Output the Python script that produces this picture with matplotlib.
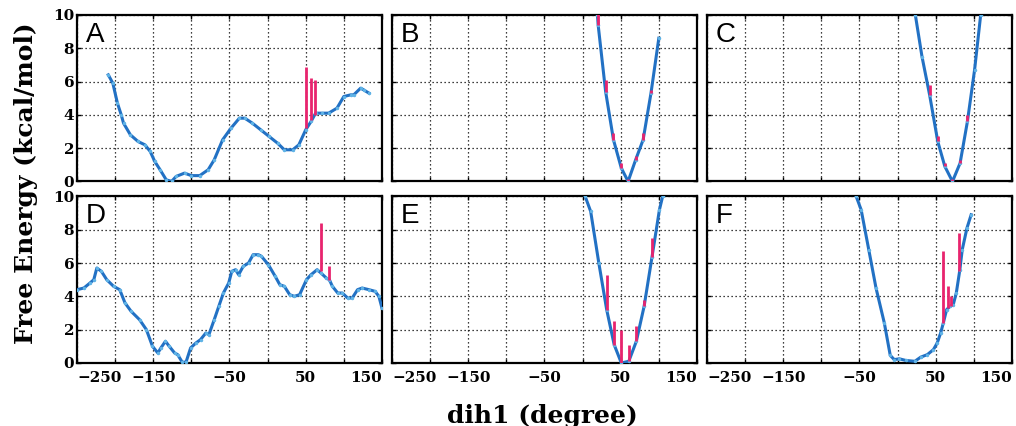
import numpy as np
import matplotlib
matplotlib.use("Agg")
import matplotlib.pyplot as plt
from matplotlib.ticker import FixedLocator, FixedFormatter

# Couleurs
BLEU = "#2271c4"
BLEU_PT = "#5fb3e6"
ROSE = "#e8246e"

# Axes
X_TICKS = [-250, -200, -150, -100, -50, 0, 50, 100, 150]
X_LABELS = ["\u2212250", "", "\u2212150", "", "\u221250", "", "50", "", "150"]
Y_TICKS = [0, 2, 4, 6, 8, 10]
PANELS = ["A", "B", "C", "D", "E", "F"]

# Panneau A
A_x = [-209, -203, -197, -192, -189, -180, -170, -161, -154, -148, -141, -133, -126, -120, -109, -100,
       -89, -78, -70, -59, -48, -37, -30, -20, -9, 2, 13, 22, 33, 41, 50, 57, 63, 72, 80, 91, 100,
       109, 113, 122, 126, 133]
A_y = [6.4, 5.9, 4.7, 4.0, 3.5, 2.8, 2.4, 2.2, 1.8, 1.2, 0.7, 0.1, 0.0, 0.3, 0.5, 0.35,
       0.35, 0.7, 1.3, 2.5, 3.2, 3.8, 3.8, 3.5, 3.1, 2.7, 2.3, 1.9, 1.9, 2.2, 3.1, 3.6, 4.1, 4.1,
       4.1, 4.4, 5.1, 5.2, 5.2, 5.6, 5.5, 5.3]
A_err_x = [51, 57, 62]
A_err_lo = [3.2, 3.7, 4.0]
A_err_hi = [6.9, 6.2, 6.1]

# Panneau B
B_x = [19.5, 20.4, 30.2, 40.5, 50.8, 59.7, 69.6, 79.4, 89.7, 100]
B_y = [10.0, 9.4, 5.4, 2.5, 0.8, 0.0, 1.3, 2.5, 5.3, 8.6]
B_err_x = [20.4, 30.2, 40.5, 50.8, 59.7, 69.6, 79.4, 89.7]
B_err_lo = [9.4, 5.4, 2.5, 0.8, 0.0, 1.3, 2.5, 5.3]
B_err_hi = [10.3, 6.1, 2.9, 1.1, 0.15, 1.5, 2.9, 5.5]

# Panneau C
C_x = [23.3, 32, 42, 52.7, 62, 72, 82, 91.6, 101, 109]
C_y = [10.0, 7.5, 5.2, 2.4, 0.9, 0.0, 1.1, 3.6, 6.7, 10.0]
C_err_x = [42, 52.7, 62, 72, 82, 91.6]
C_err_lo = [5.2, 2.4, 0.9, 0.0, 1.1, 3.6]
C_err_hi = [5.8, 2.7, 1.1, 0.15, 1.3, 4.0]

# Panneau D
D_x = [-250, -241, -233, -228, -224, -218, -211, -202, -194, -187, -179, -168, -159, -151, -144,
       -140, -134, -129, -122, -118, -112, -107, -101, -94, -88, -81, -77, -70, -64, -58, -51,
       -47, -42, -38, -32, -25, -19, -12, -8, 1, 10, 16, 22, 29, 35, 42, 51, 57, 65, 70, 77, 81,
       85, 92, 98, 105, 111, 118, 124, 133, 141, 146, 150]
D_y = [4.4, 4.5, 4.8, 5.0, 5.7, 5.5, 5.0, 4.6, 4.4, 3.6, 3.1, 2.6, 2.0, 1.0, 0.6,
       0.9, 1.3, 1.0, 0.6, 0.5, 0.05, 0.05, 0.9, 1.2, 1.4, 1.8, 1.7, 2.6, 3.4, 4.2, 4.8,
       5.5, 5.6, 5.3, 5.8, 6.0, 6.5, 6.5, 6.4, 5.9, 5.2, 4.7, 4.6, 4.1, 4.0, 4.1, 5.0, 5.3, 5.6,
       5.4, 5.1, 5.0, 4.6, 4.2, 4.2, 3.9, 3.9, 4.4, 4.5, 4.4, 4.3, 4.0, 3.3]
D_err_x = [70, 81]
D_err_lo = [5.5, 5.0]
D_err_hi = [8.4, 5.8]

# Panneau E
E_x = [3.4, 10.6, 21.3, 31.6, 41.4, 50.8, 60.6, 70.5, 80.7, 91, 100.8, 105]
E_y = [10.0, 9.1, 6.0, 3.2, 1.1, 0.0, 0.1, 1.3, 3.4, 6.35, 9.2, 10.0]
E_err_x = [31.6, 41.4, 50.8, 60.6, 70.5, 80.7, 91]
E_err_lo = [3.2, 1.1, 0.0, 0.1, 1.3, 3.4, 6.35]
E_err_hi = [5.3, 2.5, 2.0, 1.1, 2.2, 3.8, 7.5]

# Panneau F
F_x = [-54.3, -47.8, -37.8, -28.3, -17.4, -9.6, -4.3, 2.2, 10.9, 22.6, 30.4, 39, 47, 52, 56.5,
       60, 64.3, 68.7, 73, 77, 81.7, 84.8, 91, 96.5]
F_y = [10.0, 9.2, 6.8, 4.5, 2.4, 0.45, 0.2, 0.25, 0.15, 0.1, 0.35, 0.5, 0.8, 1.2, 1.8,
       2.4, 3.2, 3.4, 3.5, 4.2, 5.6, 6.8, 8.1, 8.9]
F_err_x = [60, 66, 69.6, 80.4]
F_err_lo = [2.4, 3.3, 3.4, 5.5]
F_err_hi = [6.7, 4.6, 4.0, 7.8]

courbes = [(A_x, A_y, A_err_x, A_err_lo, A_err_hi),
           (B_x, B_y, B_err_x, B_err_lo, B_err_hi),
           (C_x, C_y, C_err_x, C_err_lo, C_err_hi),
           (D_x, D_y, D_err_x, D_err_lo, D_err_hi),
           (E_x, E_y, E_err_x, E_err_lo, E_err_hi),
           (F_x, F_y, F_err_x, F_err_lo, F_err_hi)]

fig, axes = plt.subplots(2, 3, figsize=(10.16, 4.26), dpi=100)
fig.subplots_adjust(left=0.0758, right=0.996, top=0.965, bottom=0.148,
                    wspace=0.033, hspace=0.09)

for i, ax in enumerate(axes.flat):
    x, y, ex, elo, ehi = courbes[i]
    ax.plot(x, y, color=BLEU, lw=2.2, zorder=3)
    ax.plot(x, y, ".", color=BLEU_PT, ms=3, zorder=4)
    ax.vlines(ex, elo, ehi, color=ROSE, lw=2.0, zorder=5)

    ax.set_xlim(-250, 150)
    ax.set_ylim(0, 10)
    ax.xaxis.set_major_locator(FixedLocator(X_TICKS))
    ax.yaxis.set_major_locator(FixedLocator(Y_TICKS))
    ax.grid(True, color="black", linestyle=(0, (1, 2.2)), lw=0.9)
    ax.tick_params(direction="in", length=3, width=1, top=True, right=True,
                   labelsize=11, pad=2)
    ax.tick_params(axis="x", pad=6)
    for s in ax.spines.values():
        s.set_linewidth(1.6)

    ax.text(0.028, 0.96, PANELS[i], transform=ax.transAxes, ha="left", va="top",
            fontsize=20, family="Liberation Sans")

    row, col = divmod(i, 3)
    if row == 1:
        ax.xaxis.set_major_formatter(FixedFormatter(X_LABELS))
        labels = ax.get_xticklabels()
        for lab in labels:
            lab.set_fontfamily("DejaVu Serif")
            lab.set_fontweight("bold")
        labels[0].set_horizontalalignment("left")
        labels[-1].set_horizontalalignment("right")
    else:
        ax.set_xticklabels([])
    if col == 0:
        ax.set_yticklabels([str(v) for v in Y_TICKS], family="DejaVu Serif",
                           fontweight="bold")
    else:
        ax.set_yticklabels([])

fig.text(0.026, 0.57, "Free Energy (kcal/mol)", rotation=90, ha="center", va="center",
         fontsize=18, family="DejaVu Serif", fontweight="bold")
fig.text(0.534, 0.024, "dih1 (degree)", ha="center", va="center",
         fontsize=18, family="DejaVu Serif", fontweight="bold")

plt.savefig("out.png", dpi=100)
plt.close()
